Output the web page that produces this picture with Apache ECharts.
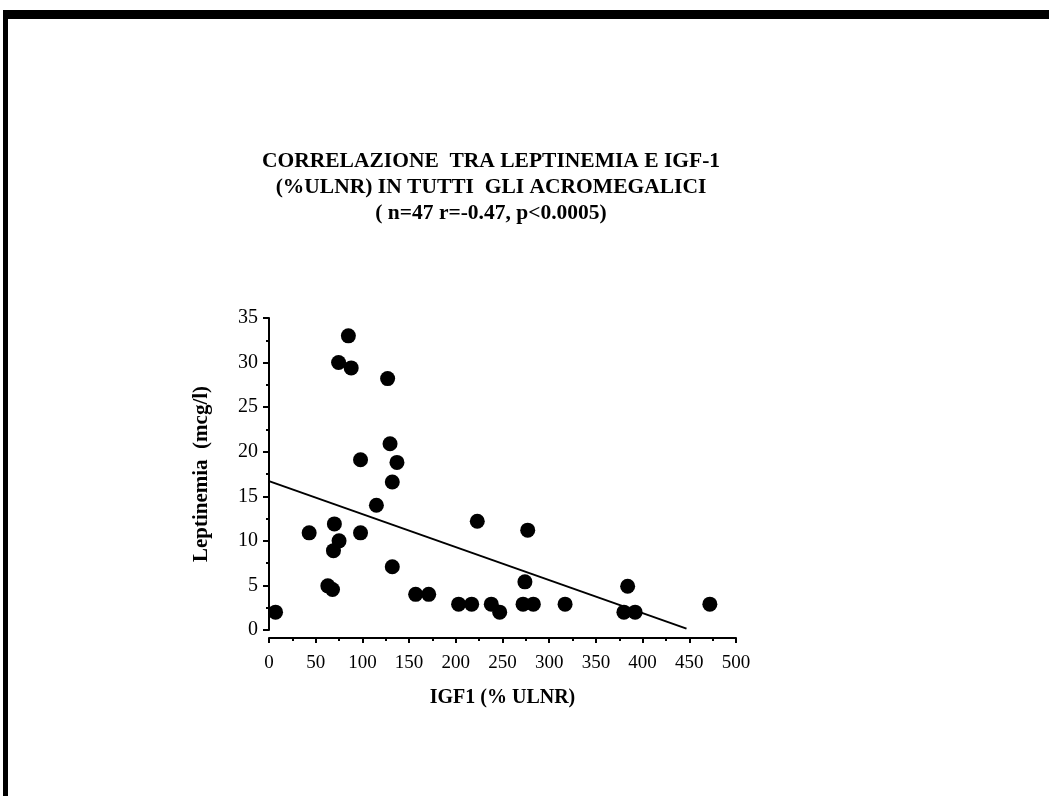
<!DOCTYPE html>
<html lang="it">

<head>
    <meta charset="UTF-8">
    <title>Leptinemia vs IGF-1</title>
    <script src="https://cdn.jsdelivr.net/npm/echarts@6.0.0/dist/echarts.min.js"></script>
    <style>
        body { margin: 0; background: #fff; }
    </style>
</head>

<body>
    <div id="main" style="width: 1049px; height: 796px;"></div>
    <script>
        // IGF1 (% ULNR) e leptinemia (mcg/l)
        var igf1 = [7, 85, 74.5, 88, 127, 129.6, 98, 137, 132, 115, 43, 70, 75, 69, 98, 132, 63, 68,
            157, 171, 203, 217, 223, 238, 247, 277, 274, 272, 283, 317, 384, 380, 392, 472];
        var leptin = [2, 33.0, 30.0, 29.4, 28.2, 20.9, 19.1, 18.8, 16.6, 14.0, 10.9, 11.9, 10.0, 8.9, 10.9, 7.1, 4.95, 4.55,
            4.0, 4.0, 2.9, 2.9, 12.2, 2.9, 2.0, 11.2, 5.4, 2.9, 2.9, 2.9, 4.9, 2.0, 2.0, 2.9];

        // retta di regressione
        var trendX = [0, 447];
        var trendY = [16.7, 0.15];

        var titleLines = [
            'CORRELAZIONE  TRA LEPTINEMIA E IGF-1',
            '(%ULNR) IN TUTTI  GLI ACROMEGALICI',
            '( n=47 r=-0.47, p<0.0005)'
        ];

        var serif = '"Liberation Serif", "Times New Roman", serif';

        var chartDom = document.getElementById('main');
        var myChart = echarts.init(chartDom);
        var option;

        option = {
            backgroundColor: '#fff',
            animation: false,
            graphic: [
                { type: 'rect', shape: { x: 3, y: 10, width: 1046, height: 9 }, style: { fill: '#000' } },
                { type: 'rect', shape: { x: 3, y: 10, width: 5, height: 786 }, style: { fill: '#000' } },
                {
                    type: 'text',
                    x: 491,
                    y: 148,
                    style: {
                        text: titleLines.join('\n'),
                        align: 'center',
                        font: 'bold 21.5px ' + serif,
                        lineHeight: 26,
                        fill: '#000'
                    }
                }
            ],
            grid: {
                left: 269,
                top: 318,
                width: 467,
                height: 312
            },
            xAxis: {
                type: 'value',
                min: 0,
                max: 500,
                interval: 50,
                offset: 8,
                name: 'IGF1 (% ULNR)',
                nameLocation: 'middle',
                nameGap: 50,
                nameTextStyle: { fontFamily: serif, fontWeight: 'bold', fontSize: 20, color: '#000' },
                axisLine: { show: true, onZero: false, lineStyle: { color: '#000', width: 2 } },
                axisTick: { show: true, length: 5, lineStyle: { color: '#000', width: 2 } },
                minorTick: { show: true, splitNumber: 2, length: 3, lineStyle: { color: '#000', width: 2 } },
                axisLabel: { margin: 16, fontFamily: serif, fontSize: 19, color: '#000' },
                splitLine: { show: false }
            },
            yAxis: {
                type: 'value',
                min: 0,
                max: 35,
                interval: 5,
                name: 'Leptinemia  (mcg/l)',
                nameLocation: 'middle',
                nameGap: 57,
                nameTextStyle: { fontFamily: serif, fontWeight: 'bold', fontSize: 21, color: '#000' },
                axisLine: { show: true, onZero: false, lineStyle: { color: '#000', width: 2 } },
                axisTick: { show: true, length: 6, lineStyle: { color: '#000', width: 2 } },
                minorTick: { show: true, splitNumber: 2, length: 3, lineStyle: { color: '#000', width: 2 } },
                axisLabel: { margin: 11, fontFamily: serif, fontSize: 20, color: '#000' },
                splitLine: { show: false }
            },
            series: [
                {
                    type: 'line',
                    data: trendX.map(function (x, i) { return [x, trendY[i]]; }),
                    symbol: 'none',
                    lineStyle: { color: '#000', width: 2 },
                    z: 1
                },
                {
                    type: 'scatter',
                    data: igf1.map(function (x, i) { return [x, leptin[i]]; }),
                    symbol: 'circle',
                    symbolSize: 15,
                    itemStyle: { color: '#000', opacity: 1 },
                    z: 2
                }
            ]
        };

        option && myChart.setOption(option);
        window.addEventListener('resize', function () {
            myChart.resize();
        });
    </script>
</body>

</html>
